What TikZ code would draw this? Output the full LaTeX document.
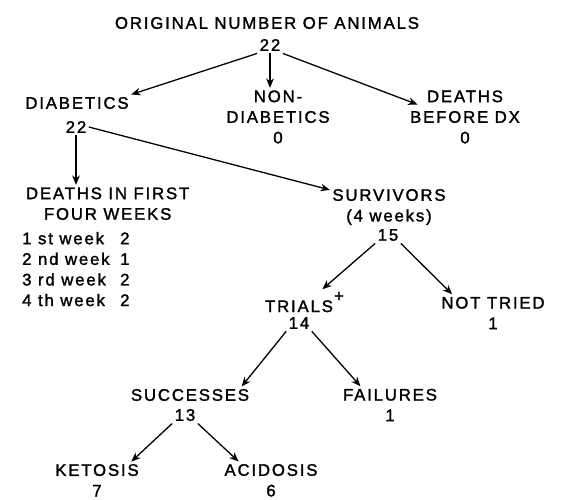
\documentclass[tikz,border=0pt]{standalone}
\usepackage{fontspec}
\setmainfont{Liberation Sans}[LetterSpace=11,FakeBold=1.6]
\usepackage{tikz}
\usetikzlibrary{arrows.meta}

\begin{document}
\begin{tikzpicture}[font=\fontsize{14.3}{17.6}\selectfont,>={Stealth[length=8pt,width=6.5pt,inset=2.5pt]},x=1cm,y=1cm]
    \tikzset{
        box/.style={align=center,inner sep=2pt},
        count/.style={inner sep=2pt},
        flow/.style={->,line width=1.1pt}
    }
    \useasboundingbox (0,0) rectangle (17.07,14.97);

    \node[box] (orig) at (8.01,14.28) {ORIGINAL NUMBER OF ANIMALS};
    \node[count] (orign) at (8.10,13.62) {22};

    \node[box] (diab) at (2.31,11.88) {DIABETICS};
    \node[count] (diabn) at (2.28,11.16) {22};
    \node[box] (nondiab) at (8.34,11.46) {NON-\\DIABETICS\\0};
    \node[box] (dx) at (13.95,11.46) {DEATHS\\BEFORE DX\\0};
    \draw[flow] (orign.south west) -- (diab.north east);
    \draw[flow] (orign.south) -- (orign.south |- nondiab.north);
    \draw[flow] (orign.south east) -- ([xshift=0.3cm,yshift=-0.5cm]dx.north west);

    \node[box] (deaths) at (3.23,8.86) {DEATHS IN FIRST\\FOUR WEEKS};
    \node[anchor=west,inner sep=0pt] (weeks) at (0.66,6.84)
        {\begin{tabular}{@{}p{2.94cm}@{}l@{}}
         1 st week & 2\\
         2 nd week & 1\\
         3 rd week & 2\\
         4 th week & 2
         \end{tabular}};
    \node[box] (surv) at (11.67,8.76) {SURVIVORS\\(4 weeks)};
    \node[count] (survn) at (11.64,7.92) {15};
    \draw[flow] (diabn.south) -- (diabn.south |- deaths.north);
    \draw[flow] (diabn.east) -- ([yshift=-0.1cm]surv.north west);

    \node[box] (trials) at (8.97,5.91)
        {TRIALS\rlap{\raisebox{9pt}{\kern1pt+}}};
    \node[count] (trialsn) at (8.97,5.28) {14};
    \node[box] (nottried) at (14.79,5.58) {NOT TRIED\\1};
    \draw[flow] (survn.south west) -- ([xshift=0.7cm]trials.north);
    \draw[flow] (survn.south east) -- ([xshift=0.4cm]nottried.north west);

    \node[box] (succ) at (5.70,3.12) {SUCCESSES};
    \node[count] (succn) at (5.55,2.52) {13};
    \node[box] (fail) at (11.70,2.82) {FAILURES\\1};
    \draw[flow] (trialsn.south west) -- ([xshift=-0.3cm]succ.north east);
    \draw[flow] (trialsn.south east) -- ([xshift=0.6cm]fail.north west);

    \node[box] (ket) at (2.91,0.56) {KETOSIS\\7};
    \node[box] (acid) at (8.13,0.56) {ACIDOSIS\\6};
    \draw[flow] (succn.south west) -- ([xshift=-0.3cm]ket.north east);
    \draw[flow] (succn.south east) -- ([xshift=0.5cm]acid.north west);
\end{tikzpicture}
\end{document}
